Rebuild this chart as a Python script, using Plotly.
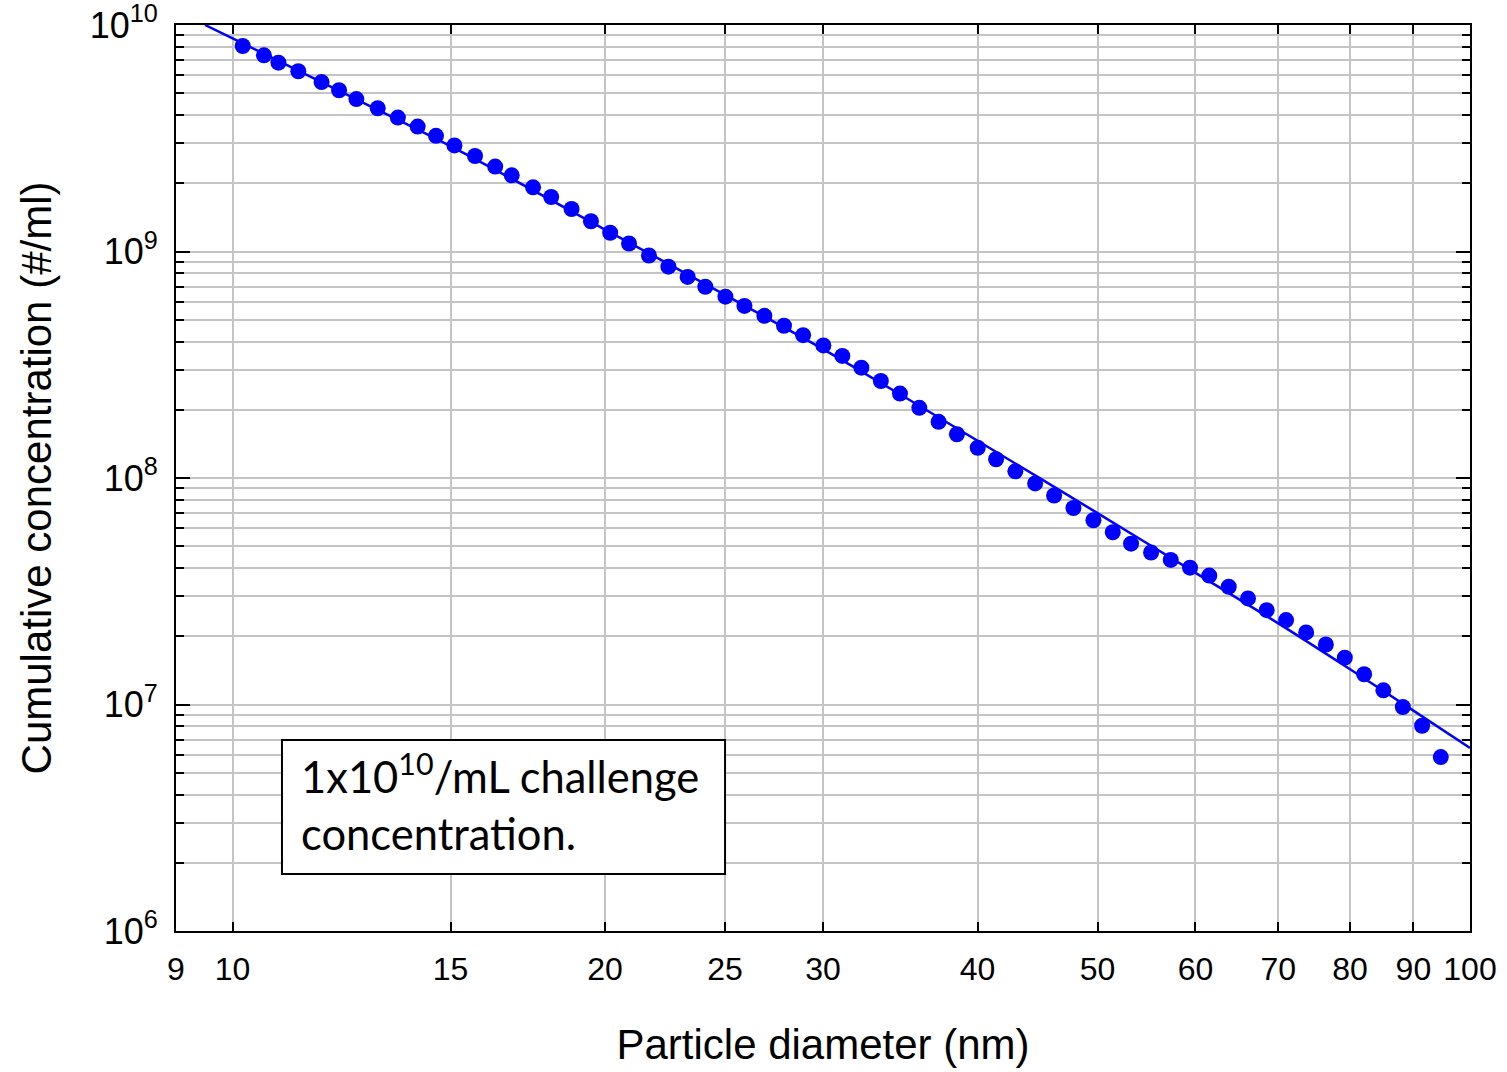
import plotly.graph_objects as go

# Measured data points (particle diameter in nm, cumulative concentration #/ml)
diameter_nm = [10.19, 10.60, 10.89, 11.30, 11.80, 12.19, 12.59, 13.10, 13.60, 14.11,
               14.60, 15.11, 15.70, 16.30, 16.81, 17.49, 18.09, 18.79, 19.48, 20.19,
               20.91, 21.70, 22.50, 23.32, 24.10, 25.02, 25.92, 26.90, 27.90, 28.91,
               30.02, 31.10, 32.22, 33.41, 34.62, 35.89, 37.20, 38.49, 40.01, 41.40,
               42.91, 44.52, 46.12, 47.81, 49.62, 51.44, 53.22, 55.24, 57.30, 59.39,
               61.56, 63.83, 66.16, 68.50, 71.02, 73.72, 76.47, 79.22, 82.12, 85.11,
               88.25, 91.47, 94.71]
cumulative_conc = [8.08e9, 7.35e9, 6.82e9, 6.25e9, 5.60e9, 5.15e9, 4.71e9, 4.29e9, 3.90e9, 3.56e9,
                   3.24e9, 2.94e9, 2.64e9, 2.37e9, 2.17e9, 1.92e9, 1.74e9, 1.54e9, 1.36e9, 1.21e9,
                   1.085e9, 9.60e8, 8.57e8, 7.72e8, 6.99e8, 6.32e8, 5.75e8, 5.20e8, 4.70e8, 4.27e8,
                   3.85e8, 3.46e8, 3.07e8, 2.68e8, 2.36e8, 2.04e8, 1.77e8, 1.56e8, 1.36e8, 1.21e8,
                   1.07e8, 9.46e7, 8.37e7, 7.37e7, 6.51e7, 5.76e7, 5.13e7, 4.69e7, 4.35e7, 4.02e7,
                   3.71e7, 3.31e7, 2.94e7, 2.61e7, 2.36e7, 2.08e7, 1.84e7, 1.61e7, 1.36e7, 1.155e7,
                   9.75e6, 8.06e6, 5.86e6]

# Fitted curve
fit_diameter_nm = [9.5, 10, 12, 15, 20, 25, 30, 35, 40, 50, 60, 70, 80, 90, 100]
fit_conc = [1.0e10, 8.73e9, 5.34e9, 2.92e9, 1.25e9, 6.43e8, 3.71e8, 2.26e8, 1.46e8,
            7.0e7, 3.81e7, 2.28e7, 1.43e7, 9.4e6, 6.43e6]

# Axis ticks
x_tick_vals = [9, 10, 15, 20, 25, 30, 40, 50, 60, 70, 80, 90, 100]
x_tick_text = ["9", "10", "15", "20", "25", "30", "40", "50", "60", "70", "80", "90", "100"]
y_tick_vals = [1e6, 1e7, 1e8, 1e9, 1e10]
y_tick_text = ["10<sup>6</sup>", "10<sup>7</sup>", "10<sup>8</sup>", "10<sup>9</sup>", "10<sup>10</sup>"]
y_minor_vals = [k * 10 ** e for e in range(6, 10) for k in range(2, 10)]

BLUE = "#0000FF"
GRID = "#c4c4c4"
FONT = "Liberation Sans, Arial, sans-serif"

fig = go.Figure()
fig.add_trace(go.Scatter(x=fit_diameter_nm, y=fit_conc, mode="lines",
                         line=dict(color=BLUE, width=2.5, shape="spline", smoothing=0.8),
                         showlegend=False, cliponaxis=True))
fig.add_trace(go.Scatter(x=diameter_nm, y=cumulative_conc, mode="markers",
                         marker=dict(color=BLUE, size=16, line=dict(width=0)),
                         showlegend=False))

fig.update_xaxes(type="log", range=[0.954243, 2.0],
                 tickmode="array", tickvals=x_tick_vals, ticktext=x_tick_text,
                 ticks="inside", ticklen=9, tickwidth=2, tickcolor="black",
                 showgrid=True, gridcolor=GRID, gridwidth=2,
                 showline=True, linecolor="black", linewidth=2, mirror="ticks",
                 zeroline=False, ticklabeloverflow="allow",
                 tickfont=dict(family=FONT, size=32, color="black"),
                 ticklabelstandoff=9,
                 title=dict(text="Particle diameter (nm)", standoff=43,
                            font=dict(family=FONT, size=42, color="black")))
fig.update_yaxes(type="log", range=[6, 10],
                 tickmode="array", tickvals=y_tick_vals, ticktext=y_tick_text,
                 ticks="inside", ticklen=14, tickwidth=2, tickcolor="black",
                 showgrid=True, gridcolor=GRID, gridwidth=2,
                 minor=dict(tickmode="array", tickvals=y_minor_vals, ticks="inside",
                            ticklen=8, tickwidth=2, tickcolor="black",
                            showgrid=True, gridcolor=GRID, gridwidth=2),
                 showline=True, linecolor="black", linewidth=2, mirror="ticks",
                 zeroline=False, ticklabeloverflow="allow",
                 tickfont=dict(family=FONT, size=36, color="black"),
                 ticklabelstandoff=9,
                 title=dict(text="Cumulative concentration (#/ml)", standoff=25,
                            font=dict(family=FONT, size=42, color="black")))

# Annotation box
fig.add_shape(type="rect", xref="paper", yref="paper",
              x0=0.0819, x1=0.4243, y0=0.0629, y1=0.2108,
              line=dict(color="black", width=2), fillcolor="white", layer="above")
fig.add_annotation(xref="paper", yref="paper", x=0.0950, y=0.1420,
                   xanchor="left", yanchor="middle", align="left", showarrow=False,
                   text="1x10<sup>10</sup>/mL challenge<br>concentration.",
                   font=dict(family="Lato, Open Sans, sans-serif", size=43.5, color="black"))

fig.update_layout(width=1507, height=1072,
                  margin=dict(l=176, r=37, t=25, b=141, autoexpand=False),
                  paper_bgcolor="white", plot_bgcolor="white",
                  font=dict(family=FONT, color="black"))

fig.write_html("out.html")
